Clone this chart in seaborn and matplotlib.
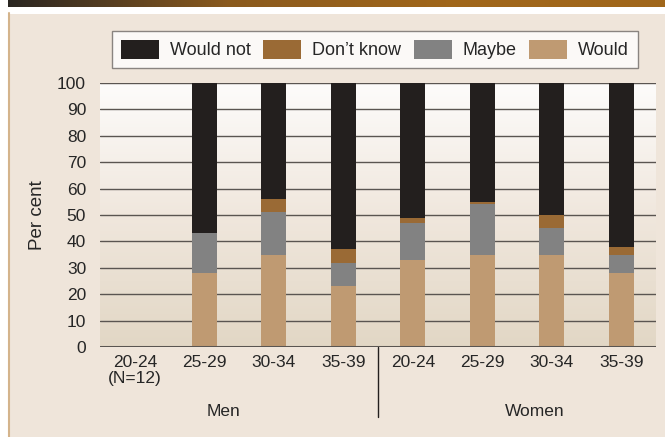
import numpy as np
import pandas as pd
import matplotlib.pyplot as plt
import seaborn as sns
from matplotlib.patches import Patch, Rectangle
from matplotlib.lines import Line2D
from matplotlib.colors import LinearSegmentedColormap

sns.set_style("white")
plt.rcParams['font.family'] = ['Liberation Sans', 'DejaVu Sans']

# data (per cent); Men 20-24 has no bar (N=12)
groups = ['Men'] * 4 + ['Women'] * 4
ages = ['20-24', '25-29', '30-34', '35-39'] * 2
would = [0, 28, 35, 23, 33, 35, 35, 28]
maybe = [0, 15, 16, 9, 14, 19, 10, 7]
dont_know = [0, 0, 5, 5, 2, 1, 5, 3]
would_not = [0, 57, 44, 63, 51, 45, 50, 62]

tick_labels = ['20-24\n(N=12)', '25-29', '30-34', '35-39', '20-24', '25-29', '30-34', '35-39']
series = ['Would not', "Don\u2019t know", 'Maybe', 'Would']
colors = ['#231f1e', '#9a6a35', '#828282', '#bf9a72']

df = pd.DataFrame({'group': groups, 'age': ages, 'Would': would, 'Maybe': maybe,
                   "Don\u2019t know": dont_know, 'Would not': would_not})
df['key'] = df['group'] + ' ' + df['age']
order = list(df['key'])

# cumulative tops for stacking
df['c_would'] = df['Would']
df['c_maybe'] = df['c_would'] + df['Maybe']
df['c_dk'] = df['c_maybe'] + df["Don\u2019t know"]
df['c_wn'] = df['c_dk'] + df['Would not']

fig = plt.figure(figsize=(6.65, 4.37), dpi=100, facecolor='white')

# page background + decorations
W, H = 665, 437
fig.patches.append(Rectangle((8 / W, 0), 1 - 8 / W, 1 - 14 / H, transform=fig.transFigure,
                             facecolor='#efe5da', edgecolor='none', zorder=-10))
fig.add_artist(Line2D([8.5 / W, 8.5 / W], [0, 1 - 13 / H], transform=fig.transFigure,
                      color='#d4b48c', lw=1.5))
bar_ax = fig.add_axes([8 / W, 1 - 7 / H, 1 - 8 / W, 7 / H])
top_cmap = LinearSegmentedColormap.from_list('top', ['#2a2622', '#8a5a1e', '#a0661a', '#a0661a'])
bar_ax.imshow(np.linspace(0, 1, 256)[None, :], aspect='auto', cmap=top_cmap)
bar_ax.axis('off')

ax = fig.add_axes([100 / W, 1 - 347 / H, 556 / W, 264 / H])
ax.set_facecolor('none')

# vertical gradient in plot area
bg_cmap = LinearSegmentedColormap.from_list('bg', ['#e2d7c5', '#f0e7dd', '#fdfcfb'])
ax.imshow(np.linspace(0, 1, 256)[:, None], aspect='auto', cmap=bg_cmap, origin='lower',
          extent=[-0.5, 7.5, 0, 100], zorder=0)

for col, c in zip(['c_wn', 'c_dk', 'c_maybe', 'c_would'], colors):
    sns.barplot(data=df, x='key', y=col, order=order, color=c, saturation=1,
                width=0.36, linewidth=0, ax=ax, zorder=3, errorbar=None)

ax.set_xlim(-0.5, 7.5)
ax.set_ylim(0, 100)
ax.set_yticks(range(0, 101, 10))
for yv in range(10, 101, 10):
    ax.axhline(yv, color='#5a5551', lw=1, zorder=1)
ax.axhline(0, color='#5a5551', lw=2.2, zorder=4)
for s in ax.spines.values():
    s.set_visible(False)

ax.set_xticks(range(8))
ax.set_xticklabels(tick_labels, fontsize=12.5, linespacing=1.05, va='top')
ax.tick_params(axis='x', length=0, pad=6)
ax.tick_params(axis='y', length=0, pad=10, labelsize=12.5)
ax.set_xlabel('')
ax.set_ylabel('Per cent', fontsize=13.5, labelpad=8)

# group separator and group labels
ax.add_line(Line2D([3.5, 3.5], [0, -70 / 264], transform=ax.get_xaxis_transform(),
                   color='#231f1e', lw=1, clip_on=False))
ax.text(1.27, -64 / 264, 'Men', transform=ax.get_xaxis_transform(), ha='center',
        va='center', fontsize=12.5)
ax.text(5.75, -64 / 264, 'Women', transform=ax.get_xaxis_transform(), ha='center',
        va='center', fontsize=12.5)

handles = [Patch(facecolor=c, edgecolor='none', label=s) for s, c in zip(series, colors)]
leg = fig.legend(handles=handles, loc='center', bbox_to_anchor=(375 / W, 1 - 49.5 / H),
                 ncol=4, fontsize=13, frameon=True, fancybox=False,
                 handlelength=2.1, handleheight=1.25, handletextpad=0.6,
                 columnspacing=0.7, borderpad=0.5)
leg.get_frame().set_edgecolor('#6e6a66')
leg.get_frame().set_facecolor('white')
leg.get_frame().set_linewidth(1)

fig.savefig('out.png', dpi=100, facecolor=fig.get_facecolor())
